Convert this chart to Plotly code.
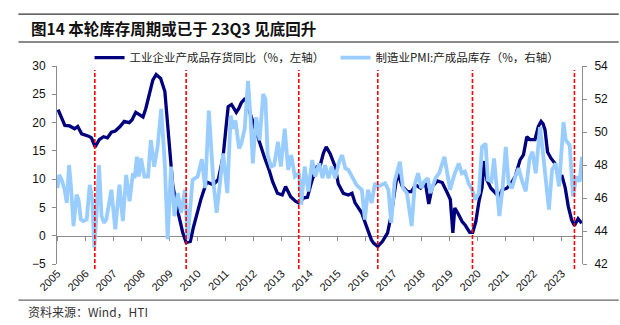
import plotly.graph_objects as go

# ---------------- data ----------------
dark_years = [2005.02, 2005.26, 2005.43, 2005.61, 2005.72, 2005.86, 2006.11, 2006.21, 2006.34, 2006.49,
              2006.64, 2006.78, 2006.92, 2007.06, 2007.23, 2007.38, 2007.56, 2007.66, 2007.79, 2007.97,
              2008.05, 2008.15, 2008.29, 2008.40, 2008.52, 2008.68, 2008.83, 2008.92, 2009.03, 2009.11,
              2009.26, 2009.38, 2009.47, 2009.59, 2009.74, 2009.85, 2009.99, 2010.12, 2010.32, 2010.56,
              2010.74, 2010.91, 2011.01, 2011.09, 2011.21, 2011.30, 2011.38, 2011.47, 2011.56, 2011.70,
              2011.91, 2012.09, 2012.21, 2012.39, 2012.56, 2012.68, 2012.85, 2013.02, 2013.14, 2013.32,
              2013.49, 2013.61, 2013.79, 2013.92, 2014.02, 2014.09, 2014.26, 2014.38, 2014.49, 2014.59,
              2014.73, 2014.91, 2015.02, 2015.20, 2015.38, 2015.51, 2015.62, 2015.74, 2015.86, 2016.03,
              2016.10, 2016.20, 2016.28, 2016.43, 2016.60, 2016.78, 2016.90, 2017.02, 2017.13, 2017.31,
              2017.49, 2017.63, 2017.78, 2017.96, 2018.13, 2018.25, 2018.38, 2018.56, 2018.73, 2018.91,
              2019.02, 2019.11, 2019.18, 2019.31, 2019.44, 2019.56, 2019.71, 2019.82, 2019.93, 2020.04,
              2020.15, 2020.23, 2020.33, 2020.47, 2020.63, 2020.75, 2020.87, 2021.04, 2021.22, 2021.34,
              2021.51, 2021.63, 2021.75, 2021.86, 2022.04, 2022.16, 2022.26, 2022.33, 2022.40, 2022.49,
              2022.61, 2022.75, 2022.87, 2023.01, 2023.12, 2023.23, 2023.35, 2023.45, 2023.58, 2023.71]
dark_values = [22.3, 19.5, 19.4, 18.9, 19.3, 18.0, 17.6, 17.3, 15.7, 17.0,
               17.5, 17.3, 18.3, 18.5, 19.3, 20.2, 20.0, 20.5, 21.8, 21.3,
               21.0, 22.5, 25.5, 27.5, 28.5, 27.8, 25.5, 20.0, 14.0, 9.0,
               5.0, 2.5, 0.5, -1.2, -1.0, 1.5, 4.0, 6.5, 9.5, 9.0,
               10.0, 14.0, 19.0, 22.8, 23.2, 22.5, 21.8, 22.5, 23.5, 24.3,
               21.1, 18.4, 16.1, 13.8, 11.5, 9.5, 7.5, 7.2, 8.7, 6.9,
               6.1, 5.8, 6.7, 6.8, 8.7, 9.9, 12.2, 12.5, 14.6, 15.7,
               14.5, 12.2, 9.2, 7.5, 7.2, 7.5, 5.8, 4.8, 4.0, 1.6,
               0.5, -0.7, -1.3, -1.9, -1.0, 0.5, 3.4, 7.5, 11.1, 8.7,
               7.8, 7.8, 9.0, 8.4, 9.3, 5.6, 8.7, 9.7, 9.4, 7.6,
               6.4, 0.5, 4.9, 3.8, 2.5, 1.8, 0.6, 0.6, 2.5, 6.0,
               8.5, 13.2, 9.8, 8.4, 7.6, 6.9, 8.1, 8.4, 9.5, 10.5,
               13.4, 14.3, 17.5, 17.0, 17.0, 19.3, 20.2, 19.8, 18.7, 14.8,
               13.7, 12.8, 10.6, 10.5, 8.5, 5.2, 2.8, 1.8, 3.0, 2.2]

pmi_years = [2005.00, 2005.06, 2005.15, 2005.25, 2005.33, 2005.41, 2005.48, 2005.57, 2005.68, 2005.75,
             2005.83, 2005.92, 2006.04, 2006.15, 2006.24, 2006.31, 2006.39, 2006.48, 2006.57, 2006.66,
             2006.74, 2006.92, 2007.06, 2007.21, 2007.33, 2007.45, 2007.57, 2007.69, 2007.75, 2007.83,
             2007.90, 2007.98, 2008.10, 2008.23, 2008.33, 2008.45, 2008.57, 2008.70, 2008.83, 2008.93,
             2009.05, 2009.17, 2009.29, 2009.41, 2009.55, 2009.64, 2009.82, 2010.00, 2010.15, 2010.27,
             2010.40, 2010.56, 2010.68, 2010.91, 2011.06, 2011.18, 2011.27, 2011.35, 2011.48, 2011.56,
             2011.68, 2011.80, 2011.90, 2011.97, 2012.09, 2012.21, 2012.34, 2012.42, 2012.50, 2012.62,
             2012.73, 2012.87, 2012.97, 2013.11, 2013.23, 2013.34, 2013.47, 2013.62, 2013.70, 2013.82,
             2013.95, 2014.09, 2014.20, 2014.34, 2014.46, 2014.55, 2014.67, 2014.79, 2014.91, 2015.05,
             2015.16, 2015.27, 2015.38, 2015.52, 2015.67, 2015.79, 2015.86, 2015.97, 2016.08, 2016.21,
             2016.33, 2016.44, 2016.57, 2016.69, 2016.81, 2016.91, 2017.03, 2017.16, 2017.22, 2017.33,
             2017.47, 2017.64, 2017.75, 2017.87, 2017.98, 2018.09, 2018.22, 2018.31, 2018.49, 2018.62,
             2018.81, 2018.90, 2019.01, 2019.16, 2019.32, 2019.43, 2019.54, 2019.67, 2019.80, 2019.91,
             2020.04, 2020.15, 2020.28, 2020.36, 2020.49, 2020.58, 2020.69, 2020.77, 2020.88, 2021.00,
             2021.10, 2021.22, 2021.34, 2021.46, 2021.57, 2021.71, 2021.85, 2021.95, 2022.07, 2022.22,
             2022.31, 2022.42, 2022.54, 2022.65, 2022.78, 2022.90, 2022.98, 2023.06, 2023.14, 2023.28,
             2023.40, 2023.52, 2023.64, 2023.72]
pmi_values = [46.6, 47.4, 47.1, 46.5, 45.7, 48.0, 46.7, 44.3, 46.2, 45.9,
              44.7, 44.6, 44.7, 46.8, 45.9, 43.0, 44.9, 48.0, 44.9, 44.5,
              44.7, 46.5, 44.1, 46.8, 44.6, 47.4, 45.8, 47.5, 47.2, 48.5,
              47.3, 48.4, 47.3, 47.3, 49.5, 47.9, 49.1, 51.4, 48.0, 43.5,
              47.9, 44.9, 46.3, 45.1, 46.5, 43.5, 47.1, 47.3, 48.35, 46.6,
              51.3, 47.0, 45.1, 48.7, 46.3, 51.0, 50.2, 50.7, 49.0, 49.3,
              50.2, 53.1, 50.5, 48.1, 50.9, 49.5, 52.3, 52.0, 48.6, 47.9,
              48.0, 49.4, 47.9, 50.2, 47.7, 48.6, 47.3, 47.5, 45.6, 47.9,
              46.4, 48.3, 47.3, 48.1, 47.2, 48.0, 47.2, 47.9, 47.2, 48.2,
              48.6, 47.8, 47.7, 47.3, 46.8, 46.6, 46.5, 44.7, 46.5, 45.7,
              46.9, 46.7, 46.8, 46.9, 46.5, 44.5, 47.0, 47.7, 48.2, 46.6,
              46.3, 44.3, 46.8, 47.5, 46.6, 47.0, 47.2, 46.3, 47.2, 47.5,
              48.5, 47.6, 46.5, 47.4, 48.1, 47.5, 47.6, 46.9, 46.5, 45.9,
              46.3, 49.1, 49.3, 47.1, 47.0, 48.4, 46.5, 44.9, 46.5, 49.1,
              46.9, 46.6, 47.3, 47.8, 47.1, 46.4, 48.4, 48.8, 47.5, 50.3,
              49.0, 47.2, 45.3, 47.7, 48.1, 46.7, 48.5, 50.6, 49.5, 49.2,
              46.1, 47.3, 47.0, 48.5]

trough_years = [2006.33, 2009.59, 2013.61, 2016.43, 2019.81, 2023.45]

year_ticks = list(range(2005, 2024))
year_labels = [str(y) for y in year_ticks]
left_ticks = [-5, 0, 5, 10, 15, 20, 25, 30]
right_ticks = [42, 44, 46, 48, 50, 52, 54]

name_dark = "工业企业产成品存货同比（%，左轴）"
name_pmi = "制造业PMI:产成品库存（%，右轴）"
title_text = "图14 本轮库存周期或已于 23Q3 见底回升"
source_text = "资料来源：Wind，HTI"

# ---------------- figure ----------------
XR = [2004.98, 2023.72]
CJK = "Noto Sans CJK SC"
LAT = "Liberation Sans, Arial"
AXC = "#8c8c8c"

fig = go.Figure()
fig.add_trace(go.Scatter(x=dark_years, y=dark_values, name=name_dark, mode="lines",
                         line=dict(color="#00007F", width=3.3), legendrank=1, yaxis="y"))
fig.add_trace(go.Scatter(x=pmi_years, y=pmi_values, name=name_pmi, mode="lines",
                         line=dict(color="#99CCFF", width=3.8), legendrank=2, yaxis="y2"))
# dummy trace to register the tick-only axis crossing at y=0
fig.add_trace(go.Scatter(x=[None], y=[None], xaxis="x2", yaxis="y", showlegend=False,
                         hoverinfo="skip"))

for ty in trough_years:
    fig.add_shape(type="line", xref="x", yref="paper", x0=ty, x1=ty, y0=-0.025, y1=0.98,
                  line=dict(color="#FF0000", width=1.6, dash="4px,2px"))

# decorative frame lines
fig.add_shape(type="line", xref="paper", yref="paper", x0=-0.0735, x1=1.07, y0=1.262, y1=1.262,
              line=dict(color="#333333", width=1.2))
fig.add_shape(type="line", xref="paper", yref="paper", x0=-0.0735, x1=1.07, y0=1.121, y1=1.121,
              line=dict(color="#8a8a8a", width=2))
fig.add_shape(type="line", xref="paper", yref="paper", x0=-0.0735, x1=1.07, y0=-0.182, y1=-0.182,
              line=dict(color="#666666", width=1.2))

fig.add_annotation(text="<b>" + title_text + "</b>", xref="paper", yref="paper",
                   x=-0.0528, y=1.194, xanchor="left", yanchor="middle", showarrow=False,
                   font=dict(family=CJK, size=15.5, color="#111111"))
fig.add_annotation(text=source_text, xref="paper", yref="paper",
                   x=-0.0585, y=-0.24, xanchor="left", yanchor="middle", showarrow=False,
                   font=dict(family=CJK, size=12, color="#333333"))

fig.update_layout(
    width=620, height=325,
    margin=dict(l=57, r=33, t=66, b=61),
    paper_bgcolor="white", plot_bgcolor="white",
    showlegend=True,
    legend=dict(orientation="h", x=0.062, y=1.042, xanchor="left", yanchor="middle",
                font=dict(family=CJK, size=11.5, color="#222222"),
                bgcolor="rgba(0,0,0,0)", itemwidth=30, tracegroupgap=0,
                entrywidth=201, entrywidthmode="pixels"),
    xaxis=dict(range=XR, tickmode="array", tickvals=year_ticks, ticktext=year_labels,
               tickangle=-45, showline=False, ticks="", showgrid=False, zeroline=False,
               tickfont=dict(family=LAT, size=11, color="#111111")),
    xaxis2=dict(range=XR, overlaying="x", anchor="free", position=5 / 35, tickmode="array",
                tickvals=year_ticks, ticks="outside", ticklen=4, tickcolor=AXC,
                showticklabels=False, showline=True, linecolor=AXC, linewidth=1,
                showgrid=False, zeroline=False, layer="below traces"),
    yaxis=dict(range=[-5, 30], tickmode="array", tickvals=left_ticks, ticks="outside",
               ticklen=4, tickcolor=AXC, showline=True, linecolor=AXC, linewidth=1,
               showgrid=False, zeroline=False, ticklabelstandoff=4,
               tickfont=dict(family=LAT, size=12, color="#111111")),
    yaxis2=dict(range=[42, 54], tickmode="array", tickvals=right_ticks, overlaying="y",
                side="right", ticks="outside", ticklen=4, tickcolor=AXC, showline=True,
                linecolor=AXC, linewidth=1, showgrid=False, zeroline=False, ticklabelstandoff=5,
                tickfont=dict(family=LAT, size=12, color="#111111")),
)

fig.write_html("out.html")
